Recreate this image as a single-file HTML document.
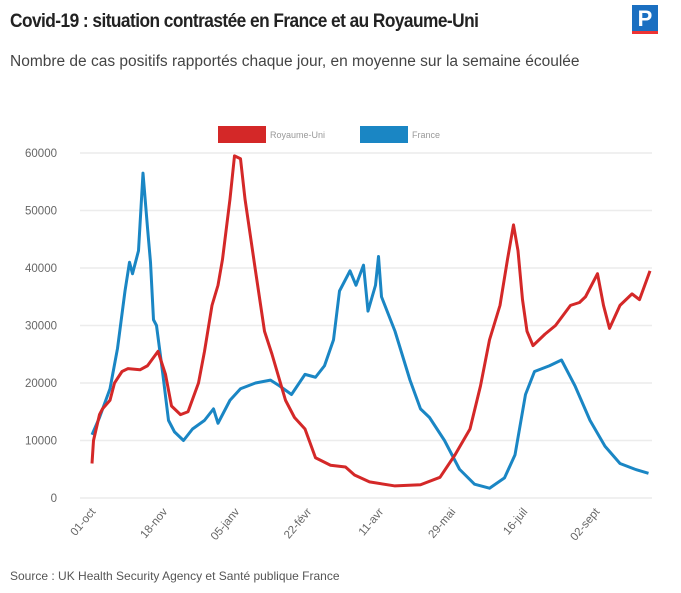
<!DOCTYPE html>
<html><head><meta charset="utf-8"><style>
body{margin:0;width:681px;height:593px;background:#fff;font-family:"Liberation Sans",sans-serif;position:relative;overflow:hidden}
.t{position:absolute;left:10px;top:11px;font-size:19px;font-weight:bold;color:#222;letter-spacing:-0.6px;transform:scaleX(0.91);transform-origin:left;white-space:nowrap}
.s{position:absolute;left:10px;top:53px;font-size:15.5px;color:#444;white-space:nowrap}
.src{position:absolute;left:10px;top:569px;font-size:12px;color:#555}
.logo{position:absolute;left:632px;top:5px;width:26px;height:26px;background:#1a6fc1;color:#fff;font-weight:bold;font-size:22px;text-align:center;line-height:27px;border-bottom:3px solid #e33}
</style></head><body>
<div class="t">Covid-19 : situation contrastée en France et au Royaume-Uni</div>
<div class="s">Nombre de cas positifs rapportés chaque jour, en moyenne sur la semaine écoulée</div>
<div class="logo">P</div>
<svg id="c" width="681" height="593" style="position:absolute;left:0;top:0"></svg>
<div class="src">Source : UK Health Security Agency et Santé publique France</div>
<script>
const yTicks=[0,10000,20000,30000,40000,50000,60000];
const xTickDays=[0,48,96,144,192,240,288,336];
const xTickLabels=["01-oct","18-nov","05-janv","22-févr","11-avr","29-mai","16-juil","02-sept"];
const frDays=[0,5,12,17,22,25,27,31,34,37,39,41,43,47,51,55,61,67,75,81,84,87,92,99,109,119,125,133,142,149,155,161,165,172,176,181,184,189,191,193,202,212,219,225,235,245,255,265,275,282,289,295,305,313,322,332,342,352,362,371];
const frVals=[11000,14000,19000,26000,36000,41000,39000,43000,56500,47000,41000,31000,30000,22000,13500,11500,10000,12000,13500,15500,13000,14500,17000,19000,20000,20500,19500,18000,21500,21000,23000,27500,36000,39500,37000,40500,32500,37000,42000,35000,29000,20500,15500,14000,10000,5000,2400,1700,3500,7500,18000,22000,23000,24000,19500,13500,9000,6000,5000,4300];
const ukDays=[0,1,5,7,12,15,20,24,32,37,44,49,53,59,64,71,75,80,84,87,92,95,99,102,109,115,120,129,135,142,149,159,169,175,185,202,219,232,242,252,259,265,272,277,281,284,287,290,294,302,309,319,325,329,337,341,345,352,360,365,372];
const ukVals=[6000,10000,14500,15500,17000,20000,22000,22500,22300,23000,25500,21500,16000,14500,15000,20000,25500,33500,37000,41500,52000,59500,59000,52000,39500,29000,25000,17000,14000,12000,7000,5700,5400,4000,2800,2100,2300,3600,7500,12000,19500,27500,33500,41500,47500,43000,34500,29000,26500,28500,30000,33500,34000,35000,39000,33500,29500,33500,35500,34500,39500];
const svg=document.getElementById('c'),NS='http://www.w3.org/2000/svg';
const X=d=>92+d*1.5, Y=v=>498-v*345/60000;
function mk(t,a){const e=document.createElementNS(NS,t);for(const k in a)e.setAttribute(k,a[k]);svg.appendChild(e);return e;}
yTicks.forEach(v=>{
 const g=mk('line',{x1:80,x2:652,y1:Y(v),y2:Y(v),stroke:'#ececec','stroke-width':1.5});
 
 
 const t=mk('text',{x:57,y:Y(v)+4,'text-anchor':'end','font-size':11.5,fill:'#666','font-family':'Liberation Sans'});
 t.textContent=v;
 
 
});
xTickDays.forEach((d,i)=>{
 const x=X(d)+4,y=512;
 const t=mk('text',{x:x,y:y,'text-anchor':'end','font-size':11.5,fill:'#666','font-family':'Liberation Sans',transform:`rotate(-50 ${x} ${y})`});
 t.textContent=xTickLabels[i];
 
 
});
function line(days,vals,col,name){
 const p=mk('polyline',{points:days.map((d,i)=>X(d)+','+Y(vals[i])).join(' '),fill:'none',stroke:col,'stroke-width':3,'stroke-linejoin':'round'});
 
 
}
line(frDays,frVals,'#1a86c4','france-line');
line(ukDays,ukVals,'#d42828','uk-line');
const leg=[['#d42828',218,'Royaume-Uni'],['#1a86c4',360,'France']];
leg.forEach(l=>{
 const r=mk('rect',{x:l[1],y:126,width:48,height:17,fill:l[0]});
 
 
 const t=mk('text',{x:l[1]+52,y:138,'font-size':9,fill:'#999','font-family':'Liberation Sans'});
 t.textContent=l[2];
 
 
});
</script>
</body></html>
